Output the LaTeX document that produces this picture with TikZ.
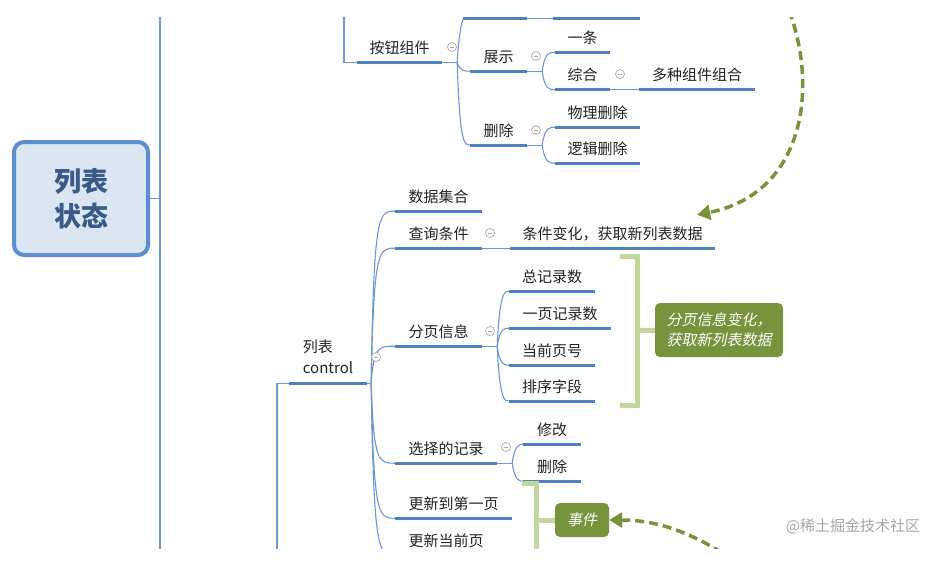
\documentclass[tikz,border=0pt]{standalone}
\usepackage{fontspec}
\newfontfamily\cjk{Noto Sans CJK SC}
\newfontfamily\cjkit[FakeSlant=0.2]{Noto Sans CJK SC}
\usetikzlibrary{arrows.meta}
\definecolor{ublue}{HTML}{4F81BD}
\definecolor{cblue}{HTML}{6C97CF}
\definecolor{rootfill}{HTML}{DCE6F2}
\definecolor{rootdraw}{HTML}{5B8FD0}
\definecolor{roottext}{HTML}{3A5A87}
\definecolor{olivegr}{HTML}{77933C}
\definecolor{lgreen}{HTML}{C3D69B}
\definecolor{txt}{HTML}{222222}
\definecolor{cgray}{HTML}{A8A8A8}
\definecolor{wmgray}{HTML}{A6A6A6}
\newcommand\brnch[2]{\draw[conn] (#1) .. controls (#1a |- #2.south west) and (#1b |- #2.south west) .. (#2.south west);}
\newcommand\mkfork[3]{\path (#2.south east) ++(#3,0) coordinate (#1) ++(2.5,0) coordinate (#1a) ++(5,0) coordinate (#1b); \draw[conn] (#2.south east) -- (#1);}
\begin{document}
\begin{tikzpicture}[x=1pt,y=-1pt,
  topic/.style={font=\cjk\fontsize{15}{18}\selectfont, text=txt, inner sep=0pt, minimum height=29pt, text height=12pt, text depth=1pt},
  uline/.style={draw=ublue, line width=2.6pt},
  conn/.style={draw=cblue, line width=1.1pt},
  collapse/.style={circle, draw=cgray, fill=white, line width=0.7pt, minimum size=9pt, inner sep=0pt,
    path picture={\draw[cgray, line width=0.8pt] ([xshift=-2.3pt]path picture bounding box.center) -- ([xshift=2.3pt]path picture bounding box.center);}},
  rootbox/.style={draw=rootdraw, line width=4pt, fill=rootfill, rounded corners=10pt, minimum width=134pt, minimum height=113pt, align=center, font=\cjk\bfseries\fontsize{27}{35}\selectfont, text=roottext},
  gbox/.style={fill=olivegr, rounded corners=5pt, text=white, font=\cjkit\fontsize{15}{20}\selectfont, align=left, inner sep=0pt},
  bracket/.style={draw=lgreen, line width=5pt},
  darrow/.style={draw=olivegr, line width=3.5pt, dash pattern=on 9pt off 5pt, -{Triangle[length=13pt,width=15pt]}}
]
\useasboundingbox (0,0) rectangle (936,563);
\fill[white] (0,0) rectangle (936,563);
\begin{scope}
\clip (0,17) rectangle (936,548);
% root
\node[rootbox] (root) at (81,198.5) {列表\\状态};
\coordinate (vtop) at (160,0);
\coordinate (vbot) at (160,563);
\coordinate (vmid) at (160,198.5);
\draw[conn] (vtop) -- (vbot);
\draw[conn] (root.east) -- (vmid);

% upper branch
\node[topic, minimum width=85pt] (anj) at (399.5,47.5) {按钮组件};
\node[topic, minimum width=64pt] (top1) at (495,4) {};
\node[topic, minimum width=87pt] (top2) at (596.5,4) {};
\node[topic, minimum width=57pt] (zs) at (498.5,56.5) {展示};
\node[topic, minimum width=55pt] (yt) at (582.5,37.5) {一条};
\node[topic, minimum width=55pt] (zh) at (582.5,75) {综合};
\node[topic, minimum width=116pt] (dz) at (697,75) {多种组件组合};
\node[topic, minimum width=57pt] (sc) at (498.5,130.5) {删除};
\node[topic, minimum width=85pt] (wl) at (597.5,112.5) {物理删除};
\node[topic, minimum width=85pt] (lj) at (597.5,148.5) {逻辑删除};

% lower branch
\node[topic, minimum width=78pt, minimum height=51pt, text height=32pt, text depth=1pt, align=left, font=\cjk\fontsize{15}{21}\selectfont] (lb) at (328,357.5) {列表\\control};
\node[topic, minimum width=87pt] (sj) at (438.5,196.5) {数据集合};
\node[topic, minimum width=87pt] (cx) at (438.5,233.5) {查询条件};
\node[topic, minimum width=205pt] (tj) at (612.5,233.5) {条件变化，获取新列表数据};
\node[topic, minimum width=87pt] (fy) at (438.5,331.5) {分页信息};
\node[topic, minimum width=86pt] (zj) at (552,276.5) {总记录数};
\node[topic, minimum width=102pt] (yy) at (560,313.5) {一页记录数};
\node[topic, minimum width=86pt] (dq) at (552,350.5) {当前页号};
\node[topic, minimum width=86pt] (px) at (552,386.5) {排序字段};
\node[topic, minimum width=102pt] (xz) at (446,448.5) {选择的记录};
\node[topic, minimum width=58pt] (xg) at (552,429.5) {修改};
\node[topic, minimum width=58pt] (sc2) at (552,466.5) {删除};
\node[topic, minimum width=117pt] (gx1) at (453.5,503.5) {更新到第一页};
\node[topic, minimum width=102pt] (gx2) at (446,540.5) {更新当前页};

\foreach \n in {anj,top1,top2,zs,yt,zh,dz,sc,wl,lj,lb,sj,cx,tj,fy,zj,yy,dq,px,xz,xg,sc2,gx1,gx2}
  \draw[uline] (\n.south west) -- (\n.south east);

% incoming connectors from outside the view
\coordinate (inA) at (344,0);
\coordinate (inB) at (277,563);
\draw[conn] (inA) |- (anj.south west);
\draw[conn] (inB) |- (lb.south west);

% forks
\mkfork{fA}{anj}{15}
\brnch{fA}{top1}\brnch{fA}{zs}\brnch{fA}{sc}
\draw[conn] (top1.south east) -- (top2.south west);
\mkfork{fB}{zs}{15}
\brnch{fB}{yt}\brnch{fB}{zh}
\draw[conn] (zh.south east) -- (dz.south west);
\mkfork{fC}{sc}{15}
\brnch{fC}{wl}\brnch{fC}{lj}
\mkfork{fD}{lb}{4}
\brnch{fD}{sj}\brnch{fD}{cx}\brnch{fD}{fy}\brnch{fD}{xz}\brnch{fD}{gx1}\brnch{fD}{gx2}
\draw[conn] (cx.south east) -- (tj.south west);
\mkfork{fE}{fy}{15}
\brnch{fE}{zj}\brnch{fE}{yy}\brnch{fE}{dq}\brnch{fE}{px}
\mkfork{fF}{xz}{15}
\brnch{fF}{xg}\brnch{fF}{sc2}

% collapse markers
\node[collapse] (c1) at (452,47) {};
\node[collapse] (c2) at (536,56) {};
\node[collapse] (c3) at (620,74) {};
\node[collapse] (c4) at (536,130) {};
\node[collapse] (c5) at (376,357) {};
\node[collapse] (c6) at (490,233) {};
\node[collapse] (c7) at (490,331) {};
\node[collapse] (c8) at (506,447) {};

% summaries
\node[gbox, minimum width=128pt, minimum height=54pt] (gb1) at (719,330) {分页信息变化，\\获取新列表数据};
\node[gbox, minimum width=54pt, minimum height=34pt] (gb2) at (582,520) {事件};
\draw[bracket] (620,256) -- (637,256) -- (637,405) -- (620,405);
\draw[bracket] (637,330) -- (gb1.west);
\draw[bracket] (522,483) -- (536,483) -- (536,600);
\draw[bracket] (536,520) -- (gb2.west);

% dashed arrows
\coordinate (a1s) at (778,-15);
\coordinate (a2s) at (745,568);
\draw[darrow] (a1s) .. controls (822,70) and (812,192) .. ([xshift=-18pt,yshift=4pt]tj.north east);
\draw[darrow] (a2s) .. controls (700,536) and (662,520) .. (gb2.east);

\node[font=\cjk\fontsize{15}{18}\selectfont, text=wmgray] (wmk) at (853,526) {@稀土掘金技术社区};
\end{scope}
\end{tikzpicture}
\end{document}
